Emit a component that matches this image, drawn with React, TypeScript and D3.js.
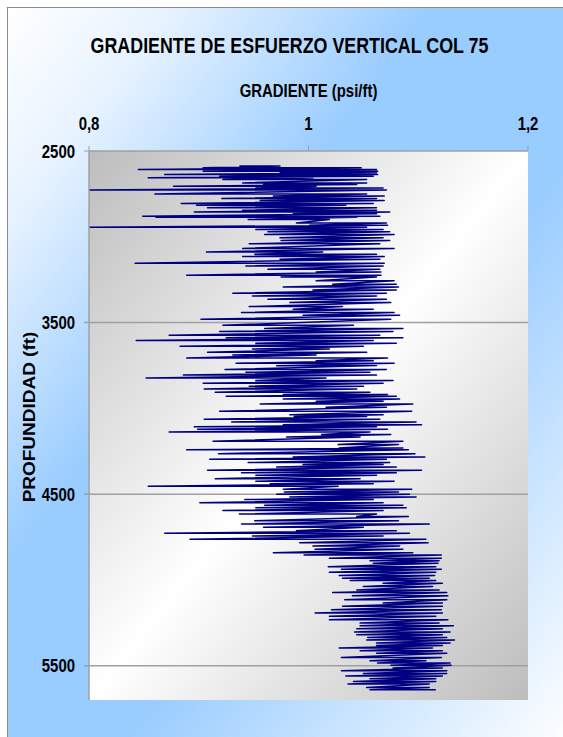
import React from 'react';
import * as d3 from 'd3';

const WIDTH = 563;
const HEIGHT = 737;

const TITLE = 'GRADIENTE DE ESFUERZO VERTICAL COL 75';
const X_TITLE = 'GRADIENTE (psi/ft)';
const Y_TITLE = 'PROFUNDIDAD (ft)';

const X_DOMAIN = [0.8, 1.2];
const Y_DOMAIN = [2500, 5700];
const X_TICKS = [0.8, 1.0, 1.2];
const Y_TICKS = [2500, 3500, 4500, 5500];

// Log trace: each sample depth carries the low and high gradient swing read at that depth.
const DEPTH_FT = [
  2588, 2598, 2608, 2618, 2627, 2637, 2647, 2656, 2666, 2686, 2695, 2705, 2715, 2728, 2750, 2763, 2777, 2789,
  2806, 2816, 2831, 2845, 2855, 2866, 2880, 2886, 2899, 2919, 2933, 2944, 2958, 2971, 2987, 3006, 3022, 3041,
  3068, 3088, 3102, 3115, 3131, 3154, 3170, 3189, 3205, 3224, 3234, 3257, 3276, 3292, 3310, 3329, 3345, 3364,
  3383, 3407, 3422, 3442, 3457, 3481, 3516, 3535, 3552,
  3574, 3589, 3605, 3621, 3638, 3654, 3673, 3689, 3706, 3722, 3737, 3751, 3774, 3790, 3805, 3823, 3838, 3854,
  3871, 3887, 3906, 3920, 3930, 3945, 3959, 3974, 3994, 4017, 4037, 4048, 4064,
  4079, 4095, 4108, 4122, 4138, 4153, 4167, 4192, 4211, 4231, 4241, 4264, 4283, 4297, 4316, 4328, 4342, 4361,
  4375, 4390, 4410, 4425, 4439, 4454, 4472, 4487, 4501, 4517, 4532, 4550, 4565, 4579,
  4596, 4616, 4631, 4655, 4674, 4693, 4713, 4728, 4744, 4763, 4783, 4802, 4822, 4841, 4855, 4874, 4888, 4903,
  4923, 4938, 4956, 4975, 4991, 5004, 5020, 5039, 5059, 5074, 5092,
  5115, 5135, 5154, 5174, 5193, 5212, 5232, 5251, 5267, 5284, 5304, 5319, 5335, 5350, 5368, 5382, 5397, 5413,
  5428, 5452, 5471, 5485, 5498, 5514, 5529, 5545, 5560, 5576, 5592, 5607, 5627, 5640,
];

const GRAD_LOW = [
  0.937, 0.904, 0.845, 0.904, 0.974, 0.869, 0.919, 0.854, 0.922, 0.940, 0.959, 0.877, 0.952, 0.800, 0.860, 0.968, 0.921, 0.956,
  0.884, 0.898, 0.908, 0.940, 0.896, 0.986, 0.849, 0.861, 0.945, 0.989, 1.001, 0.800, 0.952, 0.963, 0.960, 0.974, 0.975, 0.946,
  0.940, 0.907, 0.951, 0.940, 0.974, 0.842, 0.943, 0.963, 1.007, 0.889, 0.975, 1.007, 1.022, 0.977, 1.004, 0.931, 0.949, 0.963,
  0.983, 0.946, 0.986, 0.939, 0.995, 0.902, 0.922, 0.960, 0.919,
  0.873, 0.925, 0.843, 0.952, 0.883, 0.949, 0.908, 0.931, 0.889, 1.007, 0.934, 0.971, 0.924, 0.943, 0.886, 0.852, 0.952, 0.904,
  0.946, 0.905, 0.915, 0.977, 0.925, 0.977, 1.007, 0.956, 1.016, 0.919, 0.983, 0.987, 0.905,
  0.930, 0.977, 0.896, 0.899, 0.873, 1.012, 0.980, 0.913, 1.027, 1.028, 0.889, 0.918, 0.986, 0.910, 0.945, 0.995, 0.971, 0.908,
  0.939, 0.952, 0.915, 0.952, 0.965, 0.854, 0.977, 0.978, 0.971, 0.983, 0.942, 0.901, 0.960, 0.952,
  0.922, 0.937, 1.044, 0.951, 0.939, 0.959, 0.989, 0.869, 0.949, 0.892, 0.992, 1.004, 1.006, 0.968, 0.996, 1.019, 1.056, 1.059,
  1.018, 1.030, 1.019, 1.028, 1.031, 1.038, 1.068, 1.050, 1.044, 1.022, 1.040,
  1.033, 1.068, 1.031, 1.021, 1.006, 1.019, 1.019, 1.047, 1.047, 1.044, 1.042, 1.044, 1.054, 1.053, 1.062, 1.062, 1.028, 1.047,
  1.062, 1.030, 1.056, 1.063, 1.075, 1.077, 1.030, 1.050, 1.034, 1.056, 1.041, 1.036, 1.053, 1.056,
];

const GRAD_HIGH = [
  0.974, 1.048, 1.062, 1.063, 1.062, 1.063, 1.059, 1.004, 1.053, 1.053, 1.044, 1.007, 1.068, 1.071, 1.053, 1.069, 1.062, 1.069,
  1.059, 1.034, 1.062, 1.062, 1.074, 1.062, 1.065, 1.044, 1.019, 1.071, 1.072, 1.053, 1.068, 1.074, 1.078, 1.068, 1.074, 1.065,
  1.078, 1.013, 1.062, 1.069, 1.065, 1.069, 1.068, 1.065, 1.066, 1.066, 1.062, 1.078, 1.080, 1.082, 1.080, 1.071, 1.062, 1.071,
  1.075, 1.031, 1.059, 1.078, 1.083, 1.075, 1.041, 1.086, 1.077,
  1.065, 1.086, 1.059, 1.080, 1.050, 1.019, 1.053, 1.007, 1.072, 1.059, 1.078, 1.062, 1.071, 1.056, 1.062, 1.016, 1.077, 1.068,
  1.050, 1.044, 1.056, 1.072, 1.080, 1.083, 1.068, 1.095, 1.071, 1.094, 1.068, 1.053, 1.065,
  1.098, 1.103, 1.062, 1.072, 1.056, 1.075, 1.047, 1.086, 1.082, 1.086, 1.091, 1.097, 1.106, 1.071, 1.074, 1.068, 1.080, 1.103,
  1.080, 1.062, 1.047, 1.078, 1.059, 1.027, 1.094, 1.082, 1.092, 1.098, 1.059, 1.068, 1.086, 1.089,
  1.068, 1.062, 1.091, 1.082, 1.110, 1.050, 1.080, 1.092, 1.068, 1.107, 1.109, 1.083, 1.086, 1.095, 1.121, 1.121, 1.119, 1.118,
  1.116, 1.121, 1.116, 1.115, 1.110, 1.116, 1.122, 1.113, 1.119, 1.126, 1.127,
  1.126, 1.122, 1.122, 1.121, 1.122, 1.116, 1.127, 1.119, 1.132, 1.122, 1.129, 1.122, 1.126, 1.133, 1.129, 1.122, 1.113, 1.122,
  1.126, 1.121, 1.107, 1.129, 1.130, 1.122, 1.126, 1.126, 1.122, 1.116, 1.116, 1.110, 1.110, 1.116,
];

const PLOT = { left: 89, right: 528, top: 151, bottom: 700 };
const FONT = "'Liberation Sans', Arial, sans-serif";
const AXIS_GREY = '#a0a0a0';
// Chart text is set in a tall, horizontally condensed bold face.
const SQUEEZE = 0.83;

const commaLocale = d3.formatLocale({
  decimal: ',',
  thousands: '.',
  grouping: [3],
  currency: ['', ''],
});
const formatGradient = commaLocale.format('~g');
const formatDepth = d3.format('d');

type LabelProps = {
  x: number;
  y: number;
  size: number;
  anchor: 'start' | 'middle' | 'end';
  children: React.ReactNode;
};

function Label({ x, y, size, anchor, children }: LabelProps) {
  return (
    <text
      transform={`translate(${x}, ${y}) scale(${SQUEEZE}, 1)`}
      textAnchor={anchor}
      fontFamily={FONT}
      fontWeight="bold"
      fontSize={size}
      fill="#000"
    >
      {children}
    </text>
  );
}

export default function App() {
  const x = d3.scaleLinear().domain(X_DOMAIN).range([PLOT.left, PLOT.right]);
  const y = d3.scaleLinear().domain(Y_DOMAIN).range([PLOT.top, PLOT.bottom]);

  const trace: [number, number][] = [];
  DEPTH_FT.forEach((d, i) => {
    trace.push([GRAD_LOW[i], d]);
    trace.push([GRAD_HIGH[i], d]);
  });

  const linePath = d3
    .line<[number, number]>()
    .x((p) => x(p[0]))
    .y((p) => y(p[1]))(trace);

  const plotW = PLOT.right - PLOT.left;
  const plotH = PLOT.bottom - PLOT.top;

  return (
    <svg
      width={WIDTH}
      height={HEIGHT}
      style={{ position: 'absolute', left: 0, top: 0, display: 'block' }}
    >
      <defs>
        <linearGradient id="chartBg" x1="0" y1="0" x2="1" y2="1">
          <stop offset="0" stopColor="#ffffff" />
          <stop offset="0.15" stopColor="#e6f2ff" />
          <stop offset="0.38" stopColor="#99ccff" />
          <stop offset="0.6" stopColor="#99ccff" />
          <stop offset="1" stopColor="#ffffff" />
        </linearGradient>
        <linearGradient id="plotBg" x1="0" y1="0" x2="1" y2="1">
          <stop offset="0" stopColor="#bdbdbd" />
          <stop offset="0.5" stopColor="#ffffff" />
          <stop offset="1" stopColor="#bdbdbd" />
        </linearGradient>
        <clipPath id="plotClip">
          <rect x={PLOT.left} y={PLOT.top} width={plotW} height={plotH} />
        </clipPath>
      </defs>

      <rect x={0} y={0} width={WIDTH} height={HEIGHT} fill="#ffffff" />
      <rect
        x={7.5}
        y={7.5}
        width={562}
        height={736}
        fill="url(#chartBg)"
        stroke="#8a8a8a"
        strokeWidth={1}
      />

      <rect x={PLOT.left} y={PLOT.top} width={plotW} height={plotH} fill="url(#plotBg)" />

      {/* horizontal gridlines, extended through the tick marks */}
      {Y_TICKS.filter((t) => t !== Y_DOMAIN[0]).map((t) => (
        <line
          key={`g${t}`}
          x1={PLOT.left - 5}
          x2={PLOT.right}
          y1={y(t)}
          y2={y(t)}
          stroke={AXIS_GREY}
          strokeWidth={1.5}
        />
      ))}

      {/* gradient trace */}
      <path
        d={linePath || ''}
        fill="none"
        stroke="#000080"
        strokeWidth={1.5}
        strokeLinejoin="round"
        clipPath="url(#plotClip)"
      />

      {/* top value axis */}
      <line x1={PLOT.left} x2={PLOT.right} y1={PLOT.top} y2={PLOT.top} stroke={AXIS_GREY} strokeWidth={1.5} />
      {X_TICKS.map((t) => (
        <g key={`x${t}`}>
          <line x1={x(t)} x2={x(t)} y1={PLOT.top - 5} y2={PLOT.top} stroke={AXIS_GREY} strokeWidth={1} />
          <Label x={x(t)} y={130} size={18} anchor="middle">
            {formatGradient(t)}
          </Label>
        </g>
      ))}

      {/* left depth axis */}
      <line x1={PLOT.left} x2={PLOT.left} y1={PLOT.top} y2={PLOT.bottom} stroke={AXIS_GREY} strokeWidth={1.5} />
      {Y_TICKS.map((t) => (
        <g key={`y${t}`}>
          <line x1={PLOT.left - 5} x2={PLOT.left} y1={y(t)} y2={y(t)} stroke={AXIS_GREY} strokeWidth={1} />
          <Label x={75} y={y(t) + 6.5} size={18} anchor="end">
            {formatDepth(t)}
          </Label>
        </g>
      ))}

      <Label x={289.5} y={53} size={21.5} anchor="middle">
        {TITLE}
      </Label>
      <Label x={(PLOT.left + PLOT.right) / 2} y={97} size={18} anchor="middle">
        {X_TITLE}
      </Label>
      <text
        transform={`translate(35, 417) rotate(-90) scale(1, ${SQUEEZE})`}
        textAnchor="middle"
        fontFamily={FONT}
        fontWeight="bold"
        fontSize={19}
        fill="#000"
      >
        {Y_TITLE}
      </text>
    </svg>
  );
}
